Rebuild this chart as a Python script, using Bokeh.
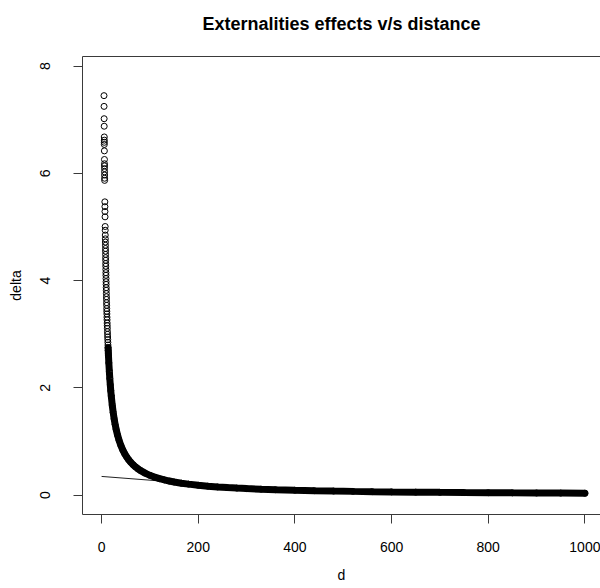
from bokeh.plotting import figure
from bokeh.models import Range1d, FixedTicker, LinearAxis
from bokeh.embed import file_html
from bokeh.resources import INLINE

# ---- data ----
d_vals = [
    4.97, 5.10, 5.27, 5.38, 5.54, 5.59, 5.62, 5.66, 5.76, 5.91, 5.99, 6.03, 6.08, 6.14,
    6.20, 6.26, 6.30, 6.76, 6.88, 6.99, 7.13, 7.39, 7.49, 7.63,
    7.74, 7.84, 7.94, 8.04, 8.13, 8.24, 8.35, 8.45, 8.56, 8.67, 8.79, 8.92, 9.02, 9.16,
    9.30, 9.41, 9.56, 9.69, 9.84, 10.00, 10.14, 10.31, 10.45, 10.63, 10.79, 10.95, 11.14,
    11.31, 11.53, 11.71, 11.90, 12.13, 12.33, 12.54, 12.76, 12.98, 13.21, 13.45, 13.70,
    13.96, 14.23,
    15, 16, 17, 18, 19, 20, 22, 24, 26, 28, 30, 33, 36, 40, 44, 48, 52, 56, 60, 65, 70,
    75, 80, 90, 100, 110, 120, 130, 140, 150, 165, 180, 200, 220, 240, 260, 280, 300,
    330, 360, 400, 440, 480, 520, 560, 600, 650, 700, 750, 800, 850, 900, 950, 1000,
]
delta_vals = [
    7.45, 7.25, 7.02, 6.88, 6.68, 6.62, 6.58, 6.54, 6.42, 6.26, 6.18, 6.14, 6.09, 6.03,
    5.97, 5.91, 5.87, 5.47, 5.38, 5.29, 5.19, 5.01, 4.94, 4.85,
    4.78, 4.72, 4.66, 4.60, 4.55, 4.49, 4.43, 4.38, 4.32, 4.27, 4.21, 4.15, 4.10, 4.04,
    3.98, 3.93, 3.87, 3.82, 3.76, 3.70, 3.65, 3.59, 3.54, 3.48, 3.43, 3.38, 3.32,
    3.27, 3.21, 3.16, 3.11, 3.05, 3.00, 2.95, 2.90, 2.85, 2.80, 2.75, 2.70,
    2.65, 2.60,
    2.467, 2.313, 2.176, 2.056, 1.947, 1.850, 1.682, 1.542, 1.423, 1.321, 1.233, 1.121,
    1.028, 0.925, 0.841, 0.771, 0.712, 0.661, 0.617, 0.569, 0.529,
    0.493, 0.463, 0.411, 0.370, 0.336, 0.308, 0.285, 0.264, 0.247, 0.224, 0.206, 0.185,
    0.168, 0.154, 0.142, 0.132, 0.123,
    0.112, 0.103, 0.0925, 0.0841, 0.0771, 0.0712, 0.0661, 0.0617, 0.0569, 0.0529, 0.0493,
    0.0463, 0.0435, 0.0411, 0.0389, 0.037,
]

# straight reference line (partly hidden under the points)
line_d = [0, 300]
line_delta = [0.35, 0.14]

x_ticks = [0, 200, 400, 600, 800, 1000]
y_ticks = [0, 2, 4, 6, 8]

title_text = "Externalities effects v/s distance"
x_label = "d"
y_label = "delta"

# dense part of the cloud (where overlapping circles form a solid band)
band_d = [d for d, v in zip(d_vals, delta_vals) if v <= 2.75]
band_delta = [v for v in delta_vals if v <= 2.75]

FONT = "Liberation Sans"
AX = "#3a3a3a"
X0, X1 = -39.5, 1032.3
Y0, Y1 = -0.36, 8.18

p = figure(width=600, height=585, output_backend="svg", toolbar_location=None,
           x_range=Range1d(X0, X1), y_range=Range1d(Y0, Y1),
           min_border_left=82, min_border_right=0, min_border_top=56, min_border_bottom=68)

p.outline_line_color = None
p.grid.visible = False
p.background_fill_color = "white"
p.border_fill_color = "white"

for ax in (p.xaxis[0], p.yaxis[0]):
    ax.axis_line_color = AX
    ax.axis_line_width = 1
    ax.major_tick_line_color = AX
    ax.major_tick_in = 0
    ax.major_tick_out = 9
    ax.minor_tick_line_color = None
    ax.major_label_text_font = FONT
    ax.major_label_text_font_size = "14px"
    ax.major_label_text_color = "black"
    ax.axis_label_text_font = FONT
    ax.axis_label_text_font_size = "14px"
    ax.axis_label_text_font_style = "normal"
    ax.axis_label_text_color = "black"

p.xaxis[0].ticker = FixedTicker(ticks=x_ticks)
p.yaxis[0].ticker = FixedTicker(ticks=y_ticks)
p.xaxis[0].axis_label = x_label
p.yaxis[0].axis_label = y_label
p.xaxis[0].major_label_standoff = 18
p.xaxis[0].axis_label_standoff = 12
p.yaxis[0].major_label_orientation = "vertical"
p.yaxis[0].major_label_standoff = 23
p.yaxis[0].axis_label_standoff = 14

# top edge of the box, carrying the chart title
top_axis = LinearAxis(ticker=FixedTicker(ticks=[]), axis_label=title_text,
                      axis_line_color=AX, major_tick_line_color=None,
                      minor_tick_line_color=None, major_tick_out=0,
                      axis_label_standoff=23, axis_label_text_font=FONT,
                      axis_label_text_font_size="18px", axis_label_text_font_style="bold",
                      axis_label_text_color="black")
p.add_layout(top_axis, "above")

# data
p.line(line_d, line_delta, line_color="#222222", line_width=1)
p.line(band_d, band_delta, line_color="black", line_width=7, line_cap="round")
p.scatter(d_vals, delta_vals, marker="circle", size=6, fill_color=None,
          line_color="black", line_width=1)

open("out.html", "w").write(file_html(p, INLINE))
